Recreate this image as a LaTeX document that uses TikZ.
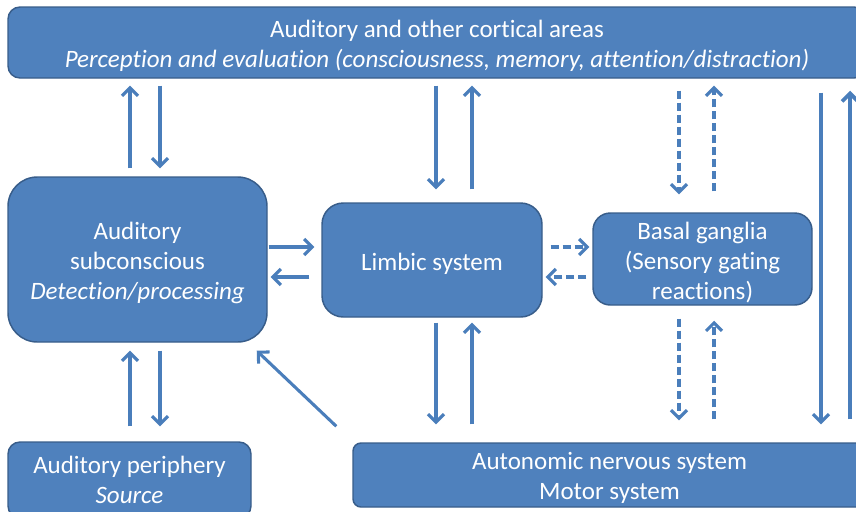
\documentclass[tikz,border=0pt]{standalone}
\usepackage{fontspec}
\setmainfont{Carlito}[Ligatures={NoCommon}]
\usetikzlibrary{arrows.meta,calc}
\definecolor{boxfill}{HTML}{4F81BD}
\definecolor{boxline}{HTML}{385D8A}
\definecolor{arrcol}{HTML}{4A7EBB}
\begin{document}
\begin{tikzpicture}[x=0.75pt,y=-0.75pt,
  box/.style={draw=boxline, line width=1.1pt, fill=boxfill, inner sep=0pt},
  txt/.style={text=white, align=center, inner sep=0pt, font=\fontsize{18.75}{22.5}\selectfont},
  arr/.style={draw=arrcol, line width=2.3pt, -{Straight Barb[length=6pt,width=12pt]}},
  dsh/.style={arr, dash pattern=on 6pt off 3pt}]
\useasboundingbox (0,0) rectangle (856,511);
\clip (0,0) rectangle (856,511);
% boxes
\node[box, minimum width=643.5pt, minimum height=53.25pt, rounded corners=9pt] (top) at (437,42.5) {};
\node[box, minimum width=194.25pt, minimum height=123.75pt, rounded corners=22pt] (sub) at (137.5,259.5) {};
\node[box, minimum width=165pt, minimum height=85.5pt, rounded corners=16pt] (lim) at (432,260) {};
\node[box, minimum width=164.25pt, minimum height=69pt, rounded corners=13pt] (bas) at (702.5,259) {};
\node[box, minimum width=182.25pt, minimum height=57pt, rounded corners=9pt] (per) at (129.5,480) {};
\node[box, minimum width=384.75pt, minimum height=48pt, rounded corners=6pt] (aut) at (609.5,475) {};
% texts
\node[txt] (topt) at ([yshift=-2.25pt]top.center)
  {Auditory and other cortical areas\\ \textit{Perception and evaluation (consciousness, memory, attention/distraction)}};
\node[txt] (subt) at ([yshift=-2.6pt]sub.center) {Auditory\\ subconscious\\ \textit{Detection/processing}};
\node[txt] (limt) at ([yshift=-2.6pt]lim.center) {Limbic system};
\node[txt] (bast) at ([yshift=-3pt]bas.center) {Basal ganglia\\ (Sensory gating\\ reactions)};
\node[txt] (pert) at (per.center) {Auditory periphery\\ \textit{Source}};
\node[txt] (autt) at ([yshift=-2.25pt]aut.center) {Autonomic nervous system\\ Motor system};
% columns and rows
\coordinate (c130) at (130,0);
\coordinate (c160) at (160,0);
\coordinate (c436) at (436,0);
\coordinate (c472) at (472,0);
\coordinate (c679) at (679,0);
\coordinate (c714) at (714,0);
\coordinate (c821) at (821,0);
\coordinate (c850) at (850,0);
\coordinate (r247) at (0,247);
\coordinate (r277) at (0,277);
% arrows top row
\draw[arr, shorten <=6pt, shorten >=5.25pt] (sub.north -| c130) -- (top.south -| c130);
\draw[arr, shorten <=5.25pt, shorten >=6pt] (top.south -| c160) -- (sub.north -| c160);
\draw[arr, shorten <=5.25pt, shorten >=9.75pt] (top.south -| c436) -- (lim.north -| c436);
\draw[arr, shorten <=9.75pt, shorten >=5.25pt] (lim.north -| c472) -- (top.south -| c472);
\draw[dsh, shorten <=9pt, shorten >=13.5pt] (top.south -| c679) -- (bas.north -| c679);
\draw[dsh, shorten <=15.75pt, shorten >=5.25pt] (bas.north -| c714) -- (top.south -| c714);
\draw[arr, shorten <=10.5pt, shorten >=13.5pt] (top.south -| c821) -- (aut.north -| c821);
\draw[arr, line width=2.8pt, shorten <=17.25pt, shorten >=9pt] (aut.north -| c850) -- (top.south -| c850);
% middle row
\draw[arr, shorten <=0.75pt, shorten >=5.25pt] (sub.east |- r247) -- (lim.west |- r247);
\draw[arr, shorten <=9pt, shorten >=2.25pt] (lim.west |- r277) -- (sub.east |- r277);
\draw[dsh, shorten <=6pt, shorten >=2.25pt] (lim.east |- r247) -- (bas.west |- r247);
\draw[dsh, shorten <=4.5pt, shorten >=2.25pt] (bas.west |- r277) -- (lim.east |- r277);
% bottom row
\draw[arr, shorten <=3.75pt, shorten >=13.5pt] (lim.south -| c436) -- (aut.north -| c436);
\draw[arr, shorten <=13.5pt, shorten >=3.75pt] (aut.north -| c472) -- (lim.south -| c472);
\draw[dsh, shorten <=9.75pt, shorten >=16.5pt] (bas.south -| c679) -- (aut.north -| c679);
\draw[dsh, shorten <=17.25pt, shorten >=11.25pt] (aut.north -| c714) -- (bas.south -| c714);
\draw[arr, shorten <=11.25pt, shorten >=6pt] (per.north -| c130) -- (sub.south -| c130);
\draw[arr, shorten <=6pt, shorten >=11.25pt] (sub.south -| c160) -- (per.north -| c160);
\draw[arr] ($(aut.north west)+(-16,-16)$) -- ($(sub.south east)+(-11,8)$);
\end{tikzpicture}
\end{document}
